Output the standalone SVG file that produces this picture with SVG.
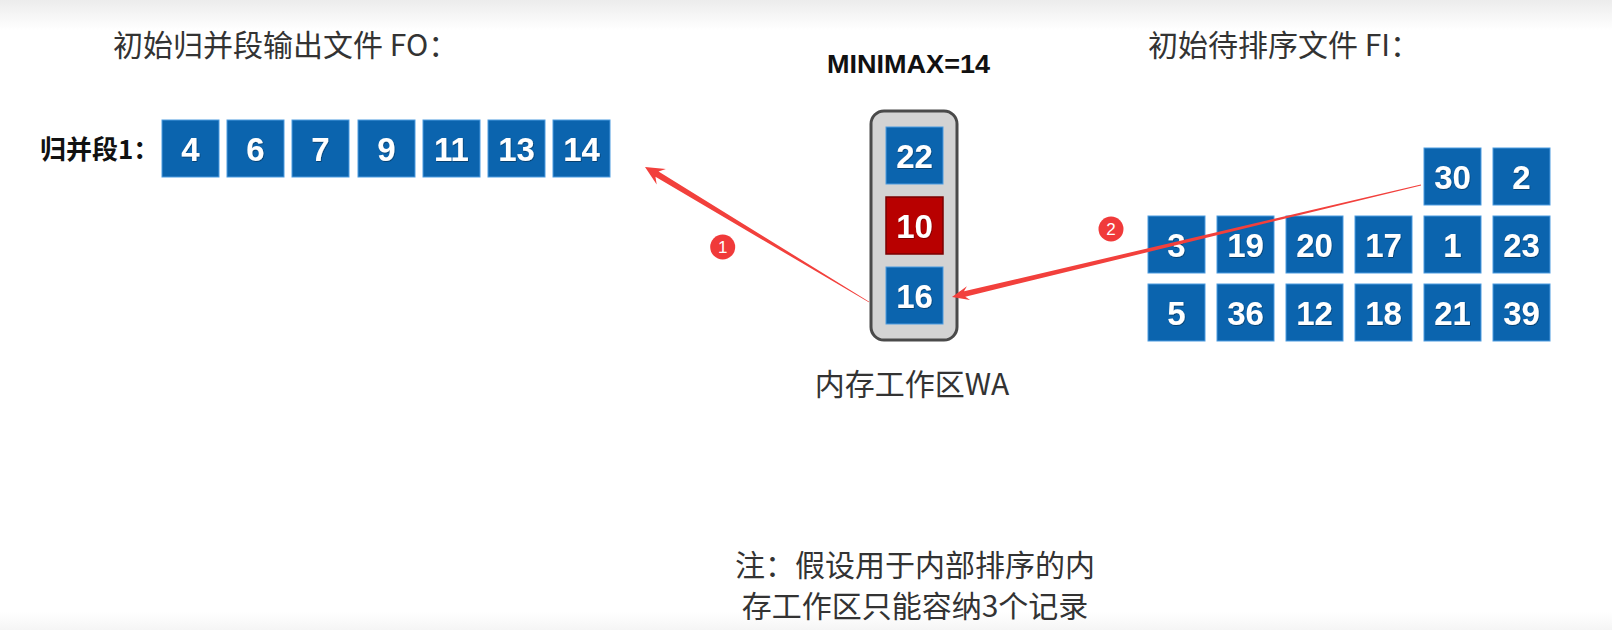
<svg xmlns="http://www.w3.org/2000/svg" width="1612" height="630" viewBox="0 0 1612 630">
  <defs>
    <linearGradient id="topfade" x1="0" y1="0" x2="0" y2="1">
      <stop offset="0" stop-color="#ececec"/>
      <stop offset="1" stop-color="#ffffff"/>
    </linearGradient>
    <linearGradient id="botfade" x1="0" y1="0" x2="0" y2="1">
      <stop offset="0" stop-color="#ffffff"/>
      <stop offset="1" stop-color="#f5f5f5"/>
    </linearGradient>
    <filter id="sh" x="-20%" y="-20%" width="140%" height="140%">
      <feDropShadow dx="0.6" dy="0.8" stdDeviation="0.6" flood-color="#000" flood-opacity="0.45"/>
    </filter>
  </defs>
  <style>
    .cjk { font-family: "Noto Sans CJK SC", "Liberation Sans", sans-serif; fill: #333; }
    .hdr { font-size: 30px; }
    .lbl { font-family: "Noto Sans CJK SC", "Liberation Sans", sans-serif; font-weight: bold; font-size: 26px; fill: #111; }
    .box { fill: #0b64ae; stroke: #4d9be0; stroke-width: 1; }
    .hot { fill: #b80000; stroke: #7a0000; stroke-width: 1.5; }
    .num { font-family: "Liberation Sans", Arial, sans-serif; font-weight: bold; font-size: 33px; fill: #fff; text-anchor: middle; filter: url(#sh); }
    .arrow { fill: #f2403c; }
    .badge { fill: #f03a3a; }
    .btxt { font-family: "Liberation Sans", Arial, sans-serif; font-size: 17px; fill: #fff; text-anchor: middle; }
  </style>

  <rect x="0" y="0" width="1612" height="630" fill="#ffffff"/>
  <rect x="0" y="0" width="1612" height="30" fill="url(#topfade)"/>
  <rect x="0" y="612" width="1612" height="18" fill="url(#botfade)"/>

  <g id="header-fo">
    <text class="cjk hdr" x="113" y="56">初始归并段输出文件 FO：</text>
  </g>
  <g id="header-fi">
    <text class="cjk hdr" x="1148" y="56">初始待排序文件 FI：</text>
  </g>
  <g id="minimax">
    <text x="827" y="73" font-family="Liberation Sans, Arial, sans-serif" font-weight="bold" font-size="26" fill="#111" textLength="163" lengthAdjust="spacingAndGlyphs">MINIMAX=14</text>
  </g>

  <g id="run1">
    <text class="lbl" x="40" y="159">归并段1：</text>
    <rect class="box" x="162" y="120" width="57" height="57"/><text class="num" x="190.5" y="160.5">4</text>
    <rect class="box" x="227" y="120" width="57" height="57"/><text class="num" x="255.5" y="160.5">6</text>
    <rect class="box" x="292" y="120" width="57" height="57"/><text class="num" x="320.5" y="160.5">7</text>
    <rect class="box" x="358" y="120" width="57" height="57"/><text class="num" x="386.5" y="160.5">9</text>
    <rect class="box" x="423" y="120" width="57" height="57"/><text class="num" x="451.5" y="160.5">11</text>
    <rect class="box" x="488" y="120" width="57" height="57"/><text class="num" x="516.5" y="160.5">13</text>
    <rect class="box" x="553" y="120" width="57" height="57"/><text class="num" x="581.5" y="160.5">14</text>
  </g>

  <g id="wa">
    <rect x="871" y="111" width="86" height="229" rx="13" ry="13" fill="#d3d3d3" stroke="#4a4a4a" stroke-width="3"/>
    <rect class="box" x="886" y="127" width="57" height="57"/><text class="num" x="914.5" y="167.5">22</text>
    <rect class="hot" x="886" y="197" width="57" height="57"/><text class="num" x="914.5" y="237.5">10</text>
    <rect class="box" x="886" y="267" width="57" height="57"/><text class="num" x="914.5" y="307.5">16</text>
    <text class="cjk" x="912" y="395" text-anchor="middle" font-size="30">内存工作区WA</text>
  </g>

  <g id="fi">
    <rect class="box" x="1424" y="148" width="57" height="57"/><text class="num" x="1452.5" y="188.5">30</text>
    <rect class="box" x="1493" y="148" width="57" height="57"/><text class="num" x="1521.5" y="188.5">2</text>

    <rect class="box" x="1148" y="216" width="57" height="57"/><text class="num" x="1176.5" y="256.5">3</text>
    <rect class="box" x="1217" y="216" width="57" height="57"/><text class="num" x="1245.5" y="256.5">19</text>
    <rect class="box" x="1286" y="216" width="57" height="57"/><text class="num" x="1314.5" y="256.5">20</text>
    <rect class="box" x="1355" y="216" width="57" height="57"/><text class="num" x="1383.5" y="256.5">17</text>
    <rect class="box" x="1424" y="216" width="57" height="57"/><text class="num" x="1452.5" y="256.5">1</text>
    <rect class="box" x="1493" y="216" width="57" height="57"/><text class="num" x="1521.5" y="256.5">23</text>

    <rect class="box" x="1148" y="284" width="57" height="57"/><text class="num" x="1176.5" y="324.5">5</text>
    <rect class="box" x="1217" y="284" width="57" height="57"/><text class="num" x="1245.5" y="324.5">36</text>
    <rect class="box" x="1286" y="284" width="57" height="57"/><text class="num" x="1314.5" y="324.5">12</text>
    <rect class="box" x="1355" y="284" width="57" height="57"/><text class="num" x="1383.5" y="324.5">18</text>
    <rect class="box" x="1424" y="284" width="57" height="57"/><text class="num" x="1452.5" y="324.5">21</text>
    <rect class="box" x="1493" y="284" width="57" height="57"/><text class="num" x="1521.5" y="324.5">39</text>
  </g>

  <g id="note">
    <text class="cjk hdr" x="915" y="576" text-anchor="middle">注：假设用于内部排序的内</text>
    <text class="cjk hdr" x="915" y="617" text-anchor="middle">存工作区只能容纳3个记录</text>
  </g>

  <g id="connectors">
    <polygon class="arrow" points="645,167 665.9,169.1 658.55,171.6 869.2,301.7 868.8,302.3 655.45,176.8 656.7,184.5"/>
    <polygon class="arrow" points="952,297 966.9,286.2 964.0,291.3 1420.9,184.6 1421.1,185.4 965.3,296.7 970.1,299.9"/>
    <circle class="badge" cx="722.7" cy="247" r="12.5"/>
    <text class="btxt" x="722.7" y="253">1</text>
    <circle class="badge" cx="1111" cy="229" r="12.5"/>
    <text class="btxt" x="1111" y="235">2</text>
  </g>
</svg>
